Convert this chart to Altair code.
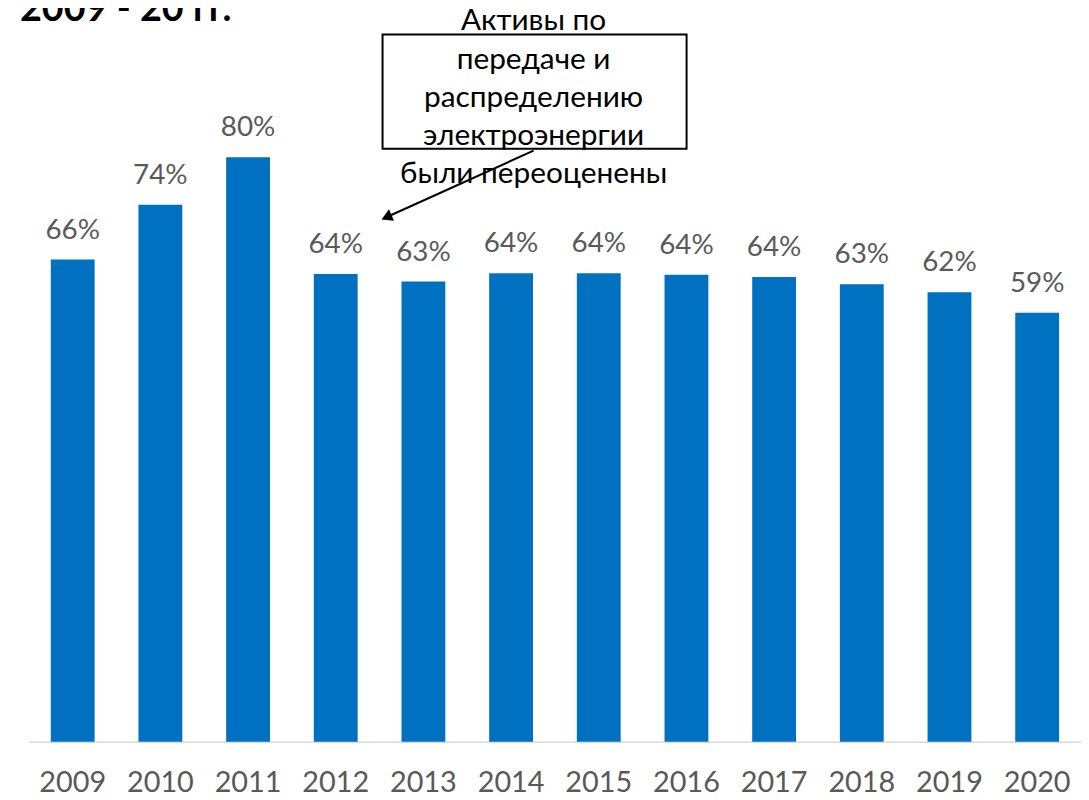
import altair as alt
import pandas as pd

years = ["2009", "2010", "2011", "2012", "2013", "2014", "2015", "2016", "2017", "2018", "2019", "2020"]
values = [0.66, 0.735, 0.80, 0.64, 0.63, 0.641, 0.641, 0.639, 0.636, 0.626, 0.615, 0.587]
labels = ["66%", "74%", "80%", "64%", "63%", "64%", "64%", "64%", "64%", "63%", "62%", "59%"]

annotation_lines = ["Активы по", "передаче и", "распределению", "электроэнергии", "были переоценены"]
title_text = "2009 - 20 гг."

df = pd.DataFrame({"year": years, "value": values, "label": labels})
one = pd.DataFrame({"k": [0]})

FONT = "Lato"
GRAY = "#595959"
BLUE = "#0070C0"

x = alt.X("year:N", sort=years,
          scale=alt.Scale(paddingInner=0.5, paddingOuter=0.25),
          axis=alt.Axis(title=None, labelAngle=0, ticks=False, labelPadding=27,
                        labelFontSize=29, labelColor=GRAY, labelFont=FONT,
                        domainColor="#D9D9D9", domainWidth=1.5, labelBaseline="top"))
y = alt.Y("value:Q", scale=alt.Scale(domain=[0, 0.9], nice=False), axis=None)

bars = alt.Chart(df).mark_bar(color=BLUE).encode(x=x, y=y)
text = alt.Chart(df).mark_text(dy=-21, baseline="alphabetic", fontSize=28,
                                font=FONT, color=GRAY).encode(x=x, y=y, text="label:N")

box = alt.Chart(one).mark_rect(fill="white", stroke="black", strokeWidth=2).encode(
    x=alt.value(356), x2=alt.value(662), y=alt.value(-50), y2=alt.value(65))

ann = alt.Chart(one).mark_text(text=annotation_lines, lineHeight=38.5, baseline="middle",
                               align="center", fontSize=30, font=FONT, color="black").encode(
    x=alt.value(508), y=alt.value(-63))

arrow_line = alt.Chart(one).mark_rule(color="black", strokeWidth=2).encode(
    x=alt.value(508), y=alt.value(67), x2=alt.value(362), y2=alt.value(133))
arrow_head = alt.Chart(one).mark_point(shape="triangle-up", filled=True, color="black",
                                       size=160, angle=246, opacity=1).encode(
    x=alt.value(360), y=alt.value(134))

title = alt.Chart(one).mark_text(text=title_text, align="left", baseline="alphabetic",
                                 fontSize=38, fontWeight="bold", font=FONT, color="black").encode(
    x=alt.value(-9), y=alt.value(-63))

chart = alt.layer(bars, text, box, ann, arrow_line, arrow_head, title).properties(
    width=1059, height=662,
    background="white",
    autosize=alt.AutoSizeParams(type="none"),
    padding={"left": 21, "top": 74, "right": 0, "bottom": 56},
).configure_view(stroke=None, strokeWidth=0)

chart.save("out.html", embed_options={"renderer": "svg", "actions": False})
